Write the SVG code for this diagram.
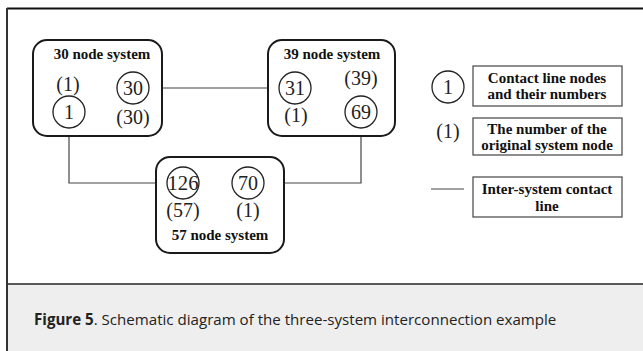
<svg xmlns="http://www.w3.org/2000/svg" width="643" height="351" viewBox="0 0 643 351">
<style>
.sys{fill:#fff;stroke:#1a1a1a;stroke-width:2}
.nd{fill:#fff;stroke:#222;stroke-width:1.3}
.lg{fill:#fff;stroke:#444;stroke-width:1.2}
.num{font-family:"Liberation Serif",serif;font-size:20px;fill:#222;text-anchor:middle}
.ttl{font-family:"Liberation Serif",serif;font-size:15px;font-weight:bold;fill:#111;text-anchor:middle}
.con{fill:none;stroke:#444;stroke-width:1.2}
.cap{font-family:"Open Sans",sans-serif;font-size:15.1px;fill:#222}
</style>
<rect x="0" y="0" width="643" height="351" fill="#fff"/>
<rect x="7" y="284" width="636" height="67" fill="#eeeeee"/>
<line x1="7" y1="284" x2="643" y2="284" stroke="#222" stroke-width="1.5"/>
<line x1="7" y1="8.5" x2="643" y2="8.5" stroke="#111" stroke-width="2"/>
<line x1="7" y1="8" x2="7" y2="351" stroke="#333" stroke-width="2"/>

<g id="connectors">
<line class="con" x1="149" y1="88" x2="279" y2="88"/>
<polyline class="con" points="69,128 69,183 167,183"/>
<polyline class="con" points="361,128 361,183 264,183"/>
</g>

<g id="sys30">
<rect class="sys" x="33" y="40" width="129" height="96" rx="14"/>
<text class="ttl" x="102" y="59">30 node system</text>
<text class="num" x="68" y="91">(1)</text>
<circle class="nd" cx="69" cy="112" r="16"/>
<text class="num" x="69" y="118.5">1</text>
<circle class="nd" cx="133" cy="88" r="16"/>
<text class="num" x="133" y="94.5">30</text>
<text class="num" x="133" y="124">(30)</text>
</g>

<g id="sys39">
<rect class="sys" x="268" y="40" width="127" height="96" rx="14"/>
<text class="ttl" x="332" y="59">39 node system</text>
<circle class="nd" cx="295" cy="88" r="16"/>
<text class="num" x="295" y="94.5">31</text>
<text class="num" x="296" y="122">(1)</text>
<text class="num" x="361" y="85">(39)</text>
<circle class="nd" cx="361" cy="112" r="16"/>
<text class="num" x="361" y="118.5">69</text>
</g>

<g id="sys57">
<rect class="sys" x="156" y="157" width="128" height="96" rx="14"/>
<circle class="nd" cx="183" cy="183" r="16"/>
<text class="num" x="183" y="189.5" textLength="31" lengthAdjust="spacingAndGlyphs">126</text>
<circle class="nd" cx="248" cy="183" r="16"/>
<text class="num" x="248" y="189.5">70</text>
<text class="num" x="183" y="217">(57)</text>
<text class="num" x="248" y="217">(1)</text>
<text class="ttl" x="220" y="240">57 node system</text>
</g>

<g id="legend-node">
<circle class="nd" cx="448" cy="87" r="16"/>
<text class="num" x="448" y="93.5">1</text>
<rect class="lg" x="473" y="66" width="149" height="40"/>
<text class="ttl" x="547" y="83">Contact line nodes</text>
<text class="ttl" x="547" y="99">and their numbers</text>
</g>

<g id="legend-orig">
<text class="num" x="448" y="138">(1)</text>
<rect class="lg" x="473" y="118" width="149" height="37"/>
<text class="ttl" x="547" y="134">The number of the</text>
<text class="ttl" x="547" y="150">original system node</text>
</g>

<g id="legend-line">
<line class="con" x1="431" y1="189" x2="464" y2="189"/>
<rect class="lg" x="473" y="177" width="149" height="40"/>
<text class="ttl" x="547" y="194">Inter-system contact</text>
<text class="ttl" x="547" y="211">line</text>
</g>

<text class="cap" x="34" y="325"><tspan font-weight="bold">Figure 5</tspan>. Schematic diagram of the three-system interconnection example</text>
</svg>
